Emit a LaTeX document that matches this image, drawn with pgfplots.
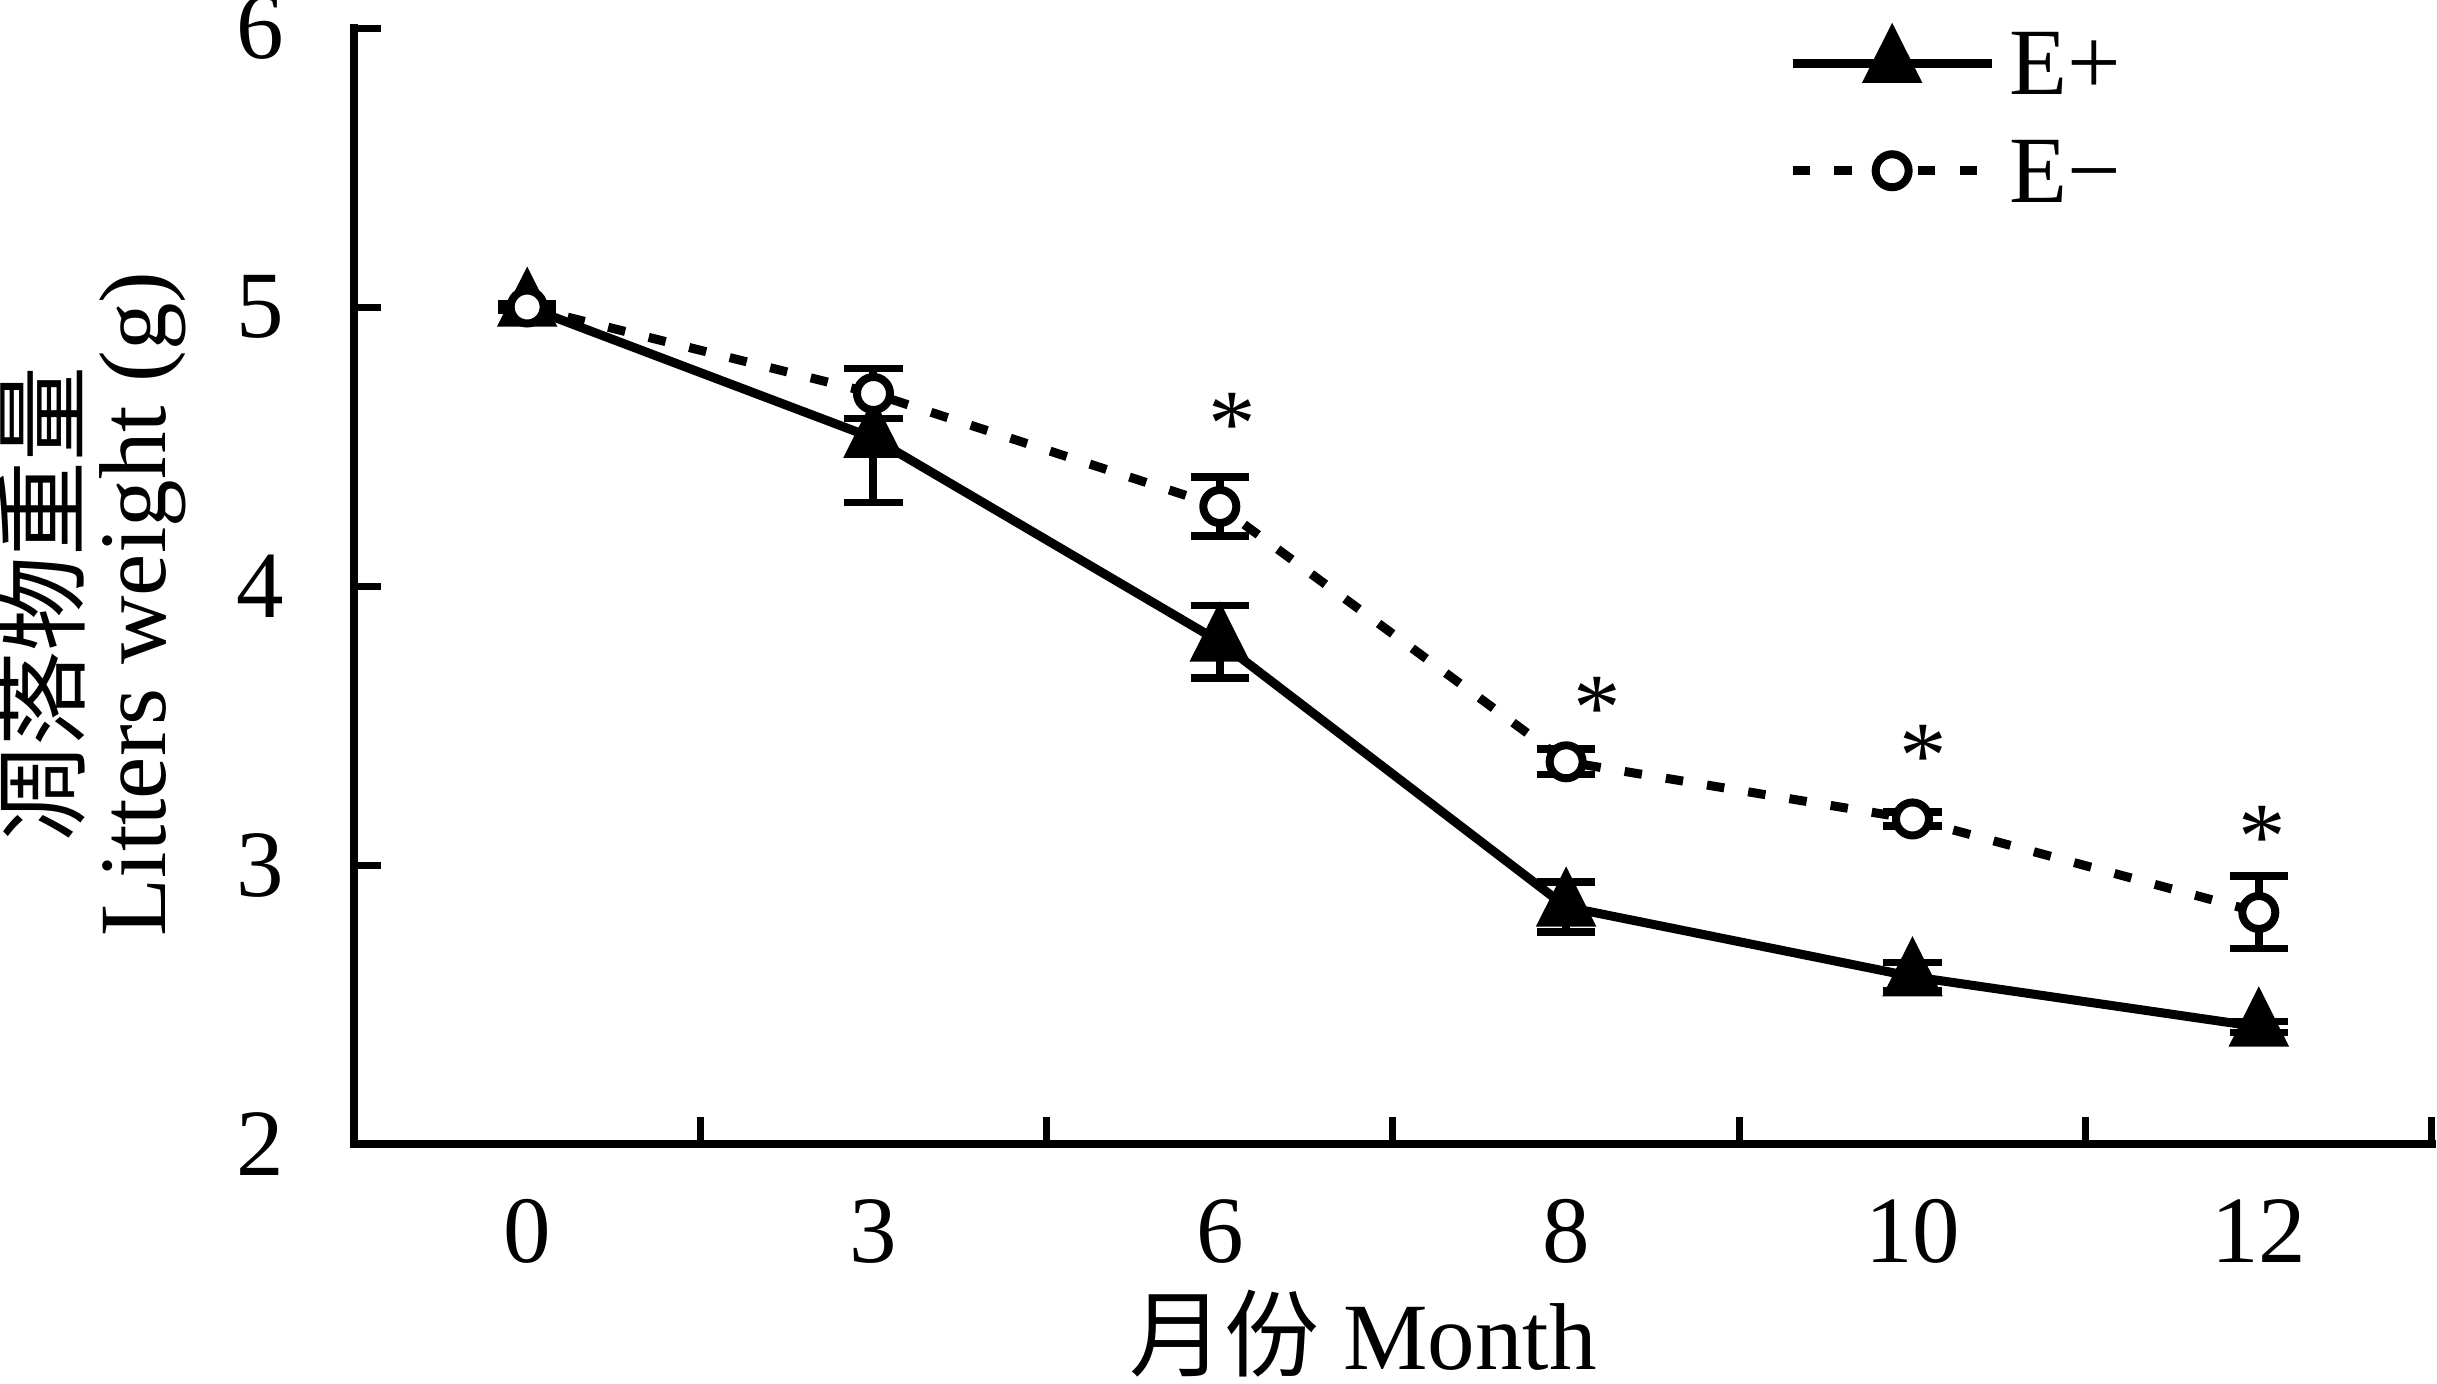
\documentclass[border=0pt]{standalone}
\usepackage{fontspec}
\setmainfont{Liberation Serif}
\newfontfamily\cjk{Noto Sans CJK SC}
\usepackage{pgfplots}
\pgfplotsset{compat=1.18}
\begin{document}
\begin{tikzpicture}
\begin{axis}[
  scale only axis, width=415.6pt, height=223.2pt,
  xmin=-0.5, xmax=5.5, ymin=2, ymax=6,
  axis lines*=left,
  axis line style={line width=1.7pt, line cap=rect, black},
  clip=false,
  tick align=inside,
  major tick length=5.5pt,
  tick style={line width=1.4pt, black},
  ytick={2,3,4,5,6},
  xtick={0.5,1.5,2.5,3.5,4.5,5.5},
  xticklabels={0,3,6,8,10,12},
  /pgf/number format/assume math mode=true,
  tick label style={font=\fontsize{19}{22}\selectfont},
  xticklabel style={xshift=-34.63pt, yshift=-7.6pt},
  yticklabel style={xshift=-10.5pt},
  every axis x label/.style={at={(axis description cs:0.4856,0)}, anchor=base, yshift=-45pt, font=\fontsize{19}{22}\selectfont},
  every axis y label/.style={at={(axis description cs:-0.1261,0.4839)}, rotate=90, anchor=center, align=center, font=\fontsize{19}{17.5}\selectfont},
  xlabel={{\cjk 月份} Month},
  ylabel={{\cjk 凋落物重量}\\Litters weight (g)},
  legend cell align=left,
  legend style={at={(axis description cs:0.6897,1.0092)}, anchor=north west, draw=none, fill=none,
    inner sep=0pt, row sep=3.7pt, font=\fontsize{19}{22}\selectfont,
    nodes={inner sep=2.6pt, text height=12.6pt, text depth=0pt}},
  legend image code/.code={\draw[mark repeat=2,mark phase=2] plot coordinates {(0pt,0pt) (19.9pt,0pt) (39.8pt,0pt)};},
]
\addplot[black, line width=1.8pt, mark=triangle*, mark size=5.3pt, mark options={solid, yscale=1.15},
  error bars/.cd, y dir=both, y explicit,
  error bar style={line width=1.6pt, solid, black},
  error mark options={rotate=90, line width=1.5pt, mark size=5.85pt, black, solid}]
  coordinates {
  (0,5.00) +- (0,0.01)
  (1,4.53) += (0,0.07) -= (0,0.23)
  (2,3.80) +- (0,0.13)
  (3,2.85) +- (0,0.09)
  (4,2.60) +- (0,0.05)
  (5,2.42) +- (0,0.02)
  };
\addlegendentry{E+}
\addplot[black, line width=1.8pt, dash pattern=on 3.5pt off 4.85pt, mark=*, mark size=3.3pt,
  mark options={solid, fill=white, draw=black, line width=1.6pt},
  error bars/.cd, y dir=both, y explicit,
  error bar style={line width=1.6pt, solid, black},
  error mark options={rotate=90, line width=1.5pt, mark size=5.85pt, black, solid}]
  coordinates {
  (0,5.00) +- (0,0.01)
  (1,4.69) +- (0,0.09)
  (2,4.285) +- (0,0.105)
  (3,3.37) +- (0,0.045)
  (4,3.165) +- (0,0.025)
  (5,2.83) +- (0,0.13)
  };
\addlegendentry{E−}
\addplot[draw=none, mark=none, nodes near coords={*},
  every node near coord/.append style={anchor=center, inner sep=0pt, font=\fontsize{19}{22}\selectfont}]
  coordinates {(2.035,4.58) (3.09,3.56) (4.03,3.39) (5.01,3.10)};
\end{axis}
\pgfresetboundingbox
\path (-70.8pt,-47.8pt) rectangle (416.6pt,228.8pt);
\end{tikzpicture}
\end{document}
